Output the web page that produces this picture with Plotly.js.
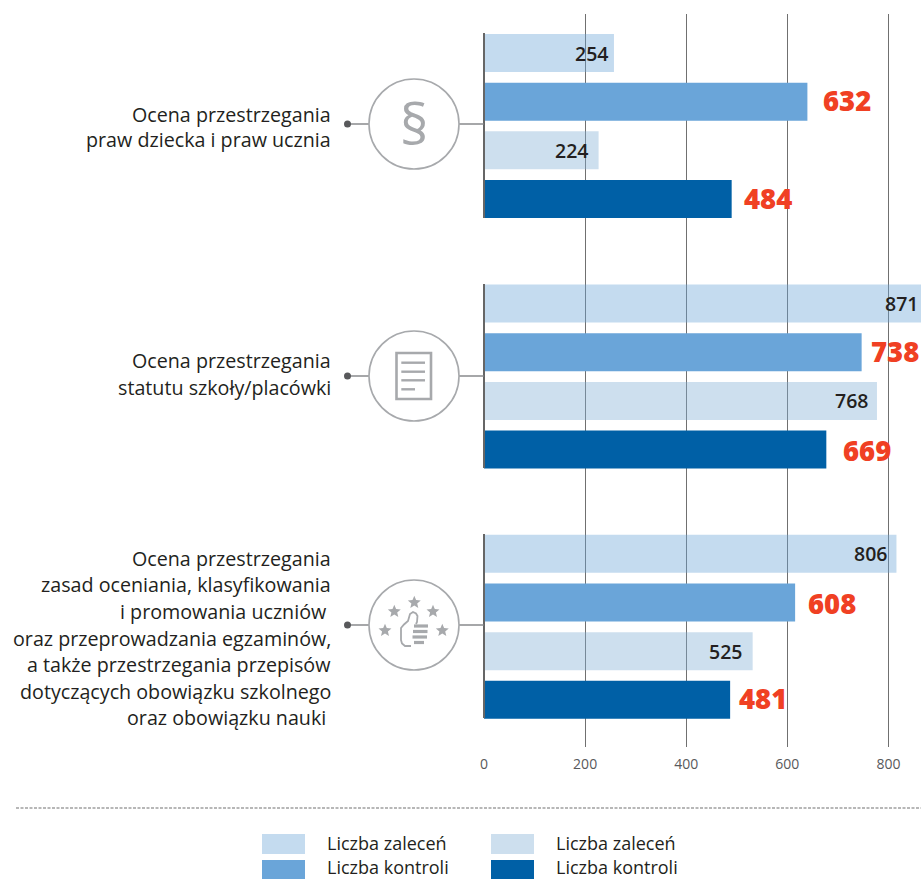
<!DOCTYPE html>
<html>
<head>
<meta charset="utf-8">
<script src="https://cdn.plot.ly/plotly-3.0.1.min.js"></script>
<style>html,body{margin:0;padding:0;background:#fff}#c{width:921px;height:879px}</style>
</head>
<body>
<div id="c"></div>
<script>
// ---- data ----
var zaleceniaA = [254, 871, 806];
var kontroleA  = [632, 738, 608];
var zaleceniaB = [224, 768, 525];
var kontroleB  = [484, 669, 481];
var legendName1 = 'Liczba zaleceń';
var legendName2 = 'Liczba kontroli';
var tickValues = [0, 200, 400, 600, 800];
var groupLabels = [
  ['Ocena przestrzegania', 'praw dziecka i praw ucznia'],
  ['Ocena przestrzegania', 'statutu szkoły/placówki'],
  ['Ocena przestrzegania', 'zasad oceniania, klasyfikowania', 'i promowania uczniów\u00a0',
   'oraz przeprowadzania egzaminów,', 'a także przestrzegania przepisów',
   'dotyczących obowiązku szkolnego', 'oraz obowiązku nauki\u00a0']
];

// ---- layout constants ----
var W = 921, H = 879, L = 484, T = 14, B = 747;
var groupPos = [0, 5.148, 10.29];
var barStep = 48.67;
var firstBarPx = 53;
var barMax = 854;
var c1 = '#C4DBEF', c2 = '#6AA5D9', c3 = '#CDDFEE', c4 = '#0060A6';
var red = '#F04023', ink = '#231F20', grey = '#A7A9AC', dotc = '#58595B';
var X = function (p) { return (p - L) / (W - L); };
var Y = function (p) { return (B - p) / (B - T); };
var yRange = [(B - firstBarPx) / barStep, (T - firstBarPx) / barStep];
var sFont = 'Open Sans, Noto Sans, sans-serif';

function series(vals, slot, color, name) {
  return {
    type: 'bar', orientation: 'h', name: name, showlegend: false, hoverinfo: 'x+name',
    x: vals, y: groupPos.map(function (g) { return g + slot; }),
    width: 38 / barStep, marker: { color: color, line: { width: 0 } },
    xaxis: 'x2', yaxis: 'y'
  };
}
var traces = [
  series(zaleceniaA, 0, 'rgba(108,165,215,0.4)', legendName1),
  series(kontroleA, 1, c2, legendName2),
  series(zaleceniaB, 2, 'rgba(130,175,212,0.4)', legendName1),
  series(kontroleB, 3, c4, legendName2),
  { type: 'scatter', x: [0], y: [0], mode: 'none', showlegend: false, hoverinfo: 'skip', xaxis: 'x', yaxis: 'y' }
];

var shapes = [], ann = [];
function line(x0, y0, x1, y1, col, w, dash) {
  shapes.push({ type: 'line', xref: 'paper', yref: 'paper', x0: X(x0), x1: X(x1), y0: Y(y0), y1: Y(y1),
    line: { color: col, width: w, dash: dash || 'solid' } });
}
function path(d, col, w, fill) {
  shapes.push({ type: 'path', xref: 'paper', yref: 'paper', path: d, line: { color: col, width: w },
    fillcolor: fill || 'rgba(0,0,0,0)' });
}
function P(x, y) { return X(x) + ',' + Y(y); }
function poly(pts, close) {
  return 'M' + pts.map(function (p) { return P(p[0], p[1]); }).join(' L') + (close ? ' Z' : '');
}
function txt(x, y, s, size, col, anchor) {
  ann.push({ xref: 'paper', yref: 'paper', x: X(x), y: Y(y), text: s, showarrow: false, xanchor: anchor || 'left',
    yanchor: 'middle', borderpad: 0, font: { family: sFont, size: size, color: col } });
}
function circlePx(cx, cy, r, col, w, fill) {
  shapes.push({ type: 'circle', xref: 'paper', yref: 'paper', x0: X(cx - r), x1: X(cx + r), y0: Y(cy + r), y1: Y(cy - r),
    line: { color: col, width: w }, fillcolor: fill || 'rgba(0,0,0,0)' });
}

// zero line segments next to bars
[[33, 218], [284, 468], [534, 718]].forEach(function (s) { line(484, s[0], 484, s[1], '#666666', 2); });

// connectors, circles
var iconY = [124, 376, 625];
iconY.forEach(function (cy) {
  line(348, cy, 369, cy, '#808285', 1.4);
  line(459, cy, 484, cy, '#808285', 1.4);
  circlePx(347.5, cy, 3.5, dotc, 0, dotc);
  circlePx(414, cy, 45, grey, 1.6);
});

// paragraph icon
txt(414, 123, '§', 56, grey, 'center');

// document icon
path(poly([[396.5, 353], [431, 353], [431, 399], [396.5, 399]], true), grey, 2.6);
[[362.7, 425], [371.7, 425], [380.3, 425], [389.3, 415]].forEach(function (r) { line(401.3, r[0], r[1], r[0], grey, 2.4); });

// thumb icon
function star(cx, cy, r) {
  var pts = [];
  for (var i = 0; i < 10; i++) {
    var a = -Math.PI / 2 + i * Math.PI / 5, q = i % 2 ? r * 0.45 : r;
    pts.push([cx + q * Math.cos(a), cy + q * Math.sin(a)]);
  }
  return poly(pts, true);
}
[[414.3, 602.5], [394.3, 611.5], [433, 611.5], [385, 630.5], [442.3, 630.5]].forEach(function (s) {
  path(star(s[0], s[1], 6.8), grey, 0, grey);
});
path(poly([[411, 646], [405, 646], [402, 643.5], [401, 640], [401, 628], [404, 624.5], [408, 621], [410, 614], [413, 612], [416, 613.5], [417.5, 616], [417, 622], [416, 624]]), grey, 1.8);
[[414, 428, 626], [413, 427.5, 631.5], [412.5, 427, 637], [414, 424, 642.5]].forEach(function (f) {
  line(f[0], f[2], f[1], f[2], grey, 3.2);
});

// group labels
var labelY = [[114, 140], [361, 387], [558, 584, 611, 638, 664, 691, 717]];
groupLabels.forEach(function (lines, g) {
  lines.forEach(function (s, i) { txt(332, labelY[g][i], s, 19.7, '#231F20', 'right'); });
});

// value labels: position relative to the bar ends (data units / px)
var pxPerUnit = (W - L) / barMax;
var offsets = [
  { vals: zaleceniaA, slot: 0, dx: [-22, -28, -26], dy: [0, 0, 0], col: ink, size: 19.5, w: 600 },
  { vals: kontroleA, slot: 1, dx: [40, 33, 36.5], dy: [-1, -1, 1.5], col: red, size: 27.5, w: 800 },
  { vals: zaleceniaB, slot: 2, dx: [-27, -25, -27.5], dy: [0, 0, 0], col: ink, size: 19.5, w: 600 },
  { vals: kontroleB, slot: 3, dx: [36, 41, 32.5], dy: [-1, 1, -1], col: red, size: 27.5, w: 800 }
];
offsets.forEach(function (o) {
  o.vals.forEach(function (v, i) {
    ann.push({ xref: 'x2', yref: 'y', x: v + o.dx[i] / pxPerUnit, y: groupPos[i] + o.slot, yshift: -o.dy[i], text: String(v),
      showarrow: false, xanchor: 'center', yanchor: 'middle', borderpad: 0,
      font: { family: sFont, size: o.size, color: o.col, weight: o.w } });
  });
});

// separator
line(16, 808, 921, 808, '#A0A0A0', 1.5, '3px,1.5px');

// legend
function swatch(x0, x1, y0, y1, col) {
  shapes.push({ type: 'rect', xref: 'paper', yref: 'paper', x0: X(x0), x1: X(x1), y0: Y(y1), y1: Y(y0), fillcolor: col, line: { width: 0 } });
}
swatch(262, 305, 834, 854, c1); swatch(262, 305, 860, 880, c2);
swatch(491, 534, 834, 854, c3); swatch(491, 534, 860, 880, c4);
txt(326, 843, legendName1, 18, ink); txt(326, 866.5, legendName2, 18, ink);
txt(555, 843, legendName1, 18, ink); txt(555, 866.5, legendName2, 18, ink);

var layout = {
  width: W, height: H,
  margin: { l: L, r: 0, t: T, b: H - B, pad: 0 },
  paper_bgcolor: '#fff', plot_bgcolor: 'rgba(0,0,0,0)',
  barmode: 'overlay', showlegend: false, hovermode: 'closest',
  xaxis: {
    range: [0, (W - L) / 0.5056], tickmode: 'array', tickvals: tickValues, ticktext: tickValues.map(String),
    showgrid: true, gridcolor: '#707070', gridwidth: 1, zeroline: false, showline: false,
    ticks: 'outside', ticklen: 4, tickcolor: 'rgba(0,0,0,0)', tickfont: { family: sFont, size: 14, color: '#58595B' }
  },
  xaxis2: {
    overlaying: 'x', side: 'bottom', anchor: 'y', range: [0, barMax], visible: false, showgrid: false, zeroline: false
  },
  yaxis: { range: yRange, visible: false, showgrid: false, zeroline: false, fixedrange: true },
  shapes: shapes, annotations: ann
};
Plotly.newPlot('c', traces, layout, { displayModeBar: false, staticPlot: true });
</script>
</body>
</html>
